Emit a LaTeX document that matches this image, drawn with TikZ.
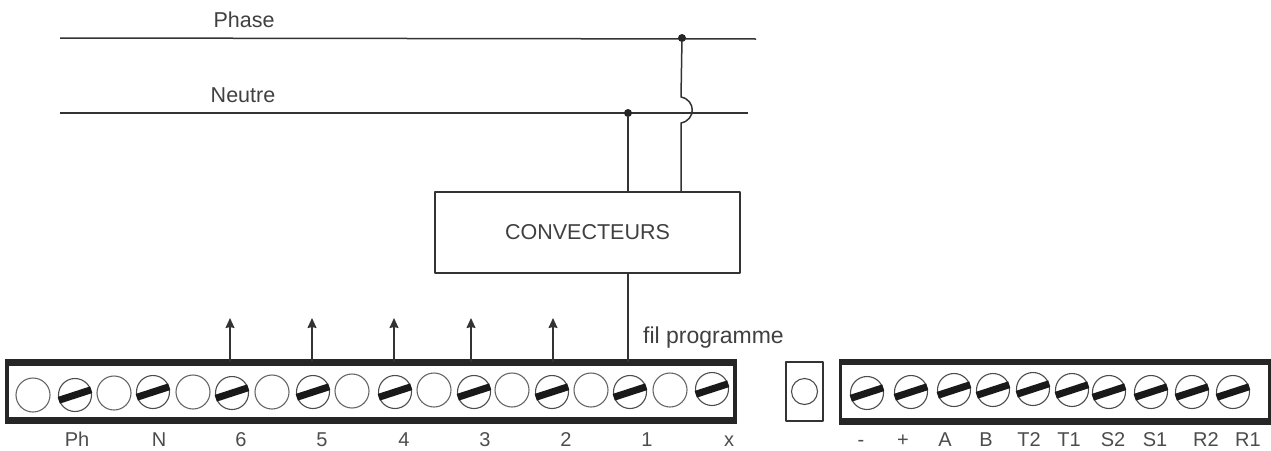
\documentclass[tikz,border=0pt]{standalone}
\usepackage{fontspec}
\setmainfont{Liberation Sans}
\usetikzlibrary{arrows.meta}
\tikzset{
	fil/.style={line width=1.5pt,black!80},
	vis/.style={circle,draw=black!70,line width=1.1pt,minimum size=33pt,inner sep=0pt},
	trou/.style={circle,draw=black!60,line width=1.1pt,minimum size=34pt,inner sep=0pt},
	bornier/.style={draw=black!85,line width=3.5pt,inner sep=0pt},
	point/.style={circle,fill=black!85,minimum size=8pt,inner sep=0pt},
	borne/.style={font=\fontsize{20}{22}\selectfont,text=black!70,inner sep=0pt}
}
\begin{document}
\begin{tikzpicture}[x=1pt,y=-1pt,font=\fontsize{21.5}{24}\selectfont,text=black!75,line join=round]
	\useasboundingbox (0,0) rectangle (1271,450);
	% lignes
	\coordinate (phA) at (60,38); \coordinate (phB) at (756,39);
	\coordinate (neA) at (60,113); \coordinate (neB) at (748,113);
	\draw[fil] (phA)--(phB);
	\draw[fil] (neA)--(neB);
	\node at (244,20) {Phase};
	\node at (243,95) {Neutre};
	\node[point] (dotPh) at (682,38) {};
	\node[point] (dotNe) at (628,113) {};
	% boitier
	\node[draw=black!80,line width=1.5pt,minimum width=305pt,minimum height=81pt,inner sep=0pt] (conv) at (587.5,232.5) {CONVECTEURS};
	% borniers
	\node[bornier,minimum width=728pt,minimum height=55pt] (bornG) at (371,391.5) {};
	\node[bornier,minimum width=429pt,minimum height=56pt] (bornD) at (1055,391.5) {};
	\foreach \b in {bornG,bornD}{
		\draw[line width=6.5pt,black!85] (\b.north west)--(\b.north east);
		\draw[line width=6.5pt,black!85] (\b.south west)--(\b.south east);
	}
	\node[draw=black!80,line width=1.5pt,minimum width=37pt,minimum height=59pt,inner sep=0pt] (boite) at (804.5,391.5) {};
	\node[circle,draw=black!70,line width=1.1pt,minimum size=26pt,inner sep=0pt] (boiteC) at (804.5,391.5) {};
	% liaisons
	\draw[fil] (dotNe)--(dotNe|-conv.north);
	\coordinate (sautA) at (681,97); \coordinate (sautB) at (681,123);
	\draw[fil] (dotPh)--(sautA) .. controls (696,100) and (696,120) .. (sautB)--(sautB|-conv.north);
	\draw[fil] (dotNe|-conv.south)--(dotNe|-bornG.north);
	\node[anchor=base west,inner sep=0pt,font=\fontsize{23}{26}\selectfont] at (643,343) {fil programme};
	% fleches
	\foreach \xf/\nom in {230/six,312/cinq,394/quatre,471/trois,553/deux}{
		\coordinate (\nom) at (\xf,318);
		\draw[fil,-{Stealth[length=10pt,width=9pt,inset=1pt]}] (\nom|-bornG.north)--(\nom);
	}
	% trous et vis
	\foreach \xt/\yt [count=\i] in {33/395,114/393,193/392,272/392,352/391,434/390,512/390,591/390,670/390}{
		\node[trou] (t\i) at (\xt,\yt) {};
	}
	\foreach \xv/\yv [count=\i] in {75/395,153/392,232/393,313/392,395/392,474/392,552/392,630/392,712/389,
		867/393,911/392,954/390,993/390,1033/389,1072/390,1109/392,1151/392,1192/392,1233/392}{
		\node[vis] (v\i) at (\xv,\yv) {};
		\draw[line width=7pt,black!90] (v\i.198)--(v\i.18);
	}
	% reperes
	\foreach \xl/\txt [count=\i] in {77/Ph,159/N,241/6,322/5,404/4,485/3,566/2,647/1,729/x,
		861/-,903/+,945/A,986/B,1029/T2,1069/T1,1113/S2,1155/S1,1206/R2,1248/R1}{
		\node[borne,anchor=base] (r\i) at (\xl,446) {\txt};
	}
\end{tikzpicture}
\end{document}
